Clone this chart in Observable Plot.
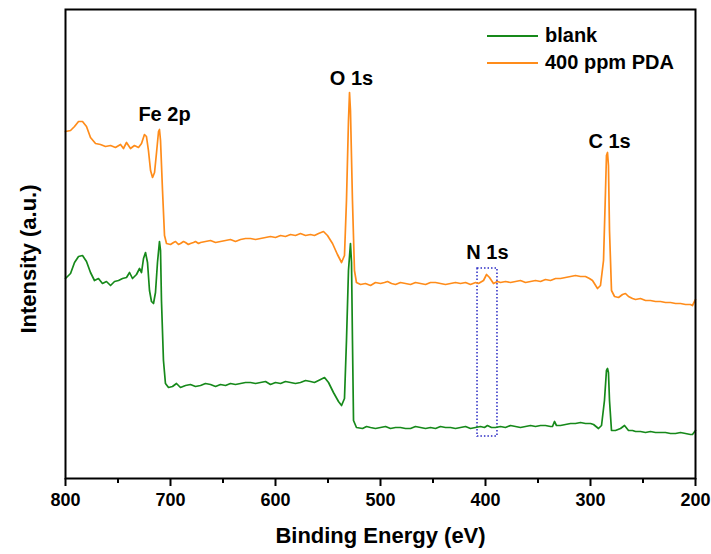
<!DOCTYPE html>
<html>
<head>
<meta charset="utf-8">
<script src="https://cdn.jsdelivr.net/npm/d3@7"></script>
<script src="https://cdn.jsdelivr.net/npm/@observablehq/plot@0.6"></script>
<style>
  html, body { margin: 0; padding: 0; background: #fff; }
  #wrap { position: relative; width: 711px; height: 554px; font-family: "Liberation Sans", Arial, sans-serif; }
  #legend { position: absolute; left: 487px; top: 22px; font-weight: bold; font-size: 20px; color: #000; }
  #legend .row { display: flex; align-items: center; height: 27px; }
  #legend .sw { width: 51px; height: 2px; margin-right: 7px; }
</style>
</head>
<body>
<div id="wrap"></div>
<script>
// ---- data (binding energy eV, intensity a.u.) ----
const blankSpectrum = [
  [800,200],[795.2,205],[791.4,216],[787.6,222],[783.8,223],[780.0,217],[776.2,206],[772.4,198],
  [768.6,200],[764.8,195],[761.0,197],[757.1,193],[753.3,197],[749.5,198],[745.7,200],[741.9,201],
  [739.0,206],[736.2,200],[732.4,204],[729.5,210],[727.6,206],[725.7,220],[723.8,226],[721.9,216],
  [720.0,188],[718.1,177],[716.2,175],[714.3,186],[712.4,216],[710.5,237],[709.5,228],[708.6,178],
  [706.7,118],[704.8,95],[701.9,91],[698.1,92],[694.3,95],[690.5,91],[685.7,93],[681.0,94],
  [676.2,92],[671.4,93],[666.7,95],[661.9,94],[657.1,92],[652.4,94],[647.6,93],[642.9,95],[638.1,94],
  [633.3,95],[628.6,96],[623.8,96],[619.0,95],[614.3,96],[609.5,97],[604.8,94],[600.0,96],[595.2,95],
  [590.5,97],[585.7,96],[581.0,95],[576.2,96],[571.4,98],[566.7,97],[562.9,96],[559.0,98],[553.3,101],
  [549.5,96],[544.8,86],[540.0,77],[537.1,73],[534.3,80],[532.4,138],[530.5,208],[528.6,235],
  [527.6,216],[526.7,138],[525.7,58],[522.9,51],[517.1,50],[513.3,52],[509.5,51],[504.8,50],[500.0,51],
  [495.2,52],[490.5,50],[485.7,51],[481.0,51],[476.2,50],[471.4,50],[466.7,52],[461.9,51],[457.1,50],
  [452.4,51],[447.6,50],[442.9,52],[438.1,51],[433.3,51],[428.6,50],[423.8,51],[419.0,52],[414.3,50],
  [409.5,51],[404.8,52],[401.0,51],[398.1,53],[394.3,51],[390.5,51],[385.7,52],[381.0,51],[376.2,53],
  [371.4,52],[366.7,51],[361.9,52],[357.1,53],[352.4,52],[347.6,53],[342.9,53],[338.1,52],[336.2,52],
  [334.3,57],[332.4,53],[328.6,53],[323.8,54],[319.0,55],[314.3,55],[309.5,56],[304.8,55],[300.0,55],
  [297.1,54],[292.4,50],[289.5,53],[286.7,78],[284.8,108],[283.8,110],[282.9,106],[281.9,78],[280.0,48],
  [276.2,48],[271.4,50],[267.6,53],[263.8,48],[260.0,48],[257.1,47],[252.4,47],[247.6,46],[242.9,47],
  [238.1,46],[233.3,46],[228.6,46],[223.8,45],[219.0,45],[214.3,46],[209.5,45],[204.8,44],[202.9,44],[200.0,48]
];
const pdaSpectrum = [
  [800,347],[795.2,348],[791.4,352],[787.6,357],[783.8,357],[780.0,352],[776.2,341],[771.4,335],
  [766.7,334],[761.9,332],[757.1,333],[752.4,331],[747.6,334],[744.8,330],[741.9,336],[738.1,330],
  [734.3,333],[730.5,331],[727.6,335],[724.8,344],[722.9,342],[721.0,328],[719.0,308],[717.1,301],
  [715.2,306],[713.3,326],[711.4,347],[710.5,349],[709.5,338],[707.6,288],[705.7,243],[703.8,235],
  [700.0,234],[697.1,236],[695.2,237],[692.4,234],[690.5,235],[687.6,237],[685.7,236],[683.0,234],
  [681.0,235],[678.1,236],[676.2,237],[673.3,235],[671.4,236],[666.7,237],[661.9,238],[657.1,236],
  [652.4,237],[647.6,238],[642.9,239],[638.1,237],[633.3,239],[628.6,240],[623.8,240],[619.0,239],
  [614.3,240],[609.5,241],[604.8,242],[600.0,241],[595.2,243],[590.5,242],[585.7,244],[581.0,243],
  [576.2,245],[571.4,243],[566.7,244],[562.9,243],[559.0,245],[554.3,247],[550.5,243],[545.7,235],
  [541.0,224],[537.1,216],[534.3,223],[532.4,278],[530.5,358],[529.5,386],[528.6,368],[526.7,278],
  [524.8,208],[522.9,196],[519.0,194],[514.3,195],[509.5,193],[504.8,196],[500.0,195],[496.2,196],
  [493.3,197],[489.5,195],[485.7,194],[481.0,196],[476.2,195],[471.4,194],[466.7,196],[461.9,195],
  [457.1,194],[452.4,196],[447.6,196],[442.9,195],[438.1,194],[433.3,195],[428.6,196],[423.8,195],
  [419.0,196],[414.3,194],[409.5,196],[406.7,195],[401.9,198],[399.0,204],[396.2,201],[392.4,195],
  [388.6,197],[385.7,196],[381.0,197],[376.2,196],[371.4,197],[366.7,198],[361.9,196],[357.1,197],
  [352.4,198],[347.6,197],[342.9,199],[338.1,198],[333.3,200],[328.6,200],[323.8,201],[319.0,202],
  [314.3,203],[309.5,202],[304.8,202],[301.0,200],[298.1,198],[293.3,190],[290.5,193],[287.6,218],
  [285.7,288],[284.8,323],[283.8,326],[282.9,313],[281.9,248],[280.0,188],[277.1,182],[273.3,181],
  [269.5,184],[266.7,185],[263.8,182],[260.0,180],[257.1,179],[252.4,180],[247.6,178],[242.9,178],
  [238.1,177],[233.3,177],[228.6,176],[223.8,176],[219.0,175],[214.3,175],[209.5,174],[204.8,174],
  [202.9,173],[200.0,179]
];
const seriesNames = ["blank", "400 ppm PDA"];
const seriesColors = ["#16891a", "#ff8c1a"];
const xTicks = [800, 700, 600, 500, 400, 300, 200];
const xMinorTicks = [750, 650, 550, 450, 350, 250];
const peakLabels = ["Fe 2p", "O 1s", "N 1s", "C 1s"];
const peakLabelEnergy = [705.7, 527.6, 398.1, 281.9];
const peakLabelIntensity = [364, 400, 226, 337];
const n1sBoxEnergy = [407.6, 388.6];      // x1, x2
const n1sBoxIntensity = [42, 210];        // y1, y2

// ---- build tables ----
const rows = [
  ...blankSpectrum.map(([e, v]) => ({e, v, s: seriesNames[0]})),
  ...pdaSpectrum.map(([e, v]) => ({e, v, s: seriesNames[1]}))
];
const peaks = peakLabels.map((t, i) => ({t, e: peakLabelEnergy[i], v: peakLabelIntensity[i]}));
const box = [{x1: n1sBoxEnergy[0], x2: n1sBoxEnergy[1], y1: n1sBoxIntensity[0], y2: n1sBoxIntensity[1]}];

const chart = Plot.plot({
  width: 711,
  height: 554,
  marginLeft: 65,
  marginRight: 16,
  marginTop: 9,
  marginBottom: 76,
  style: {fontFamily: "'Liberation Sans', Arial, sans-serif", fontWeight: "bold", background: "#fff", color: "#000"},
  x: {domain: [800, 200]},
  y: {domain: [0, 469], axis: null},
  color: {domain: seriesNames, range: seriesColors},
  marks: [
    Plot.rect(box, {x1: "x1", x2: "x2", y1: "y1", y2: "y2", fill: "none", stroke: "#2b2bc4", strokeWidth: 1.5, strokeDasharray: "1.5,2"}),
    Plot.line(rows, {x: "e", y: "v", z: "s", stroke: "s", strokeWidth: 1.7, curve: "linear"}),
    Plot.text(peaks, {x: "e", y: "v", text: "t", fontSize: 20, fontWeight: "bold", fill: "#000"}),
    Plot.frame({stroke: "#000", strokeWidth: 2}),
    Plot.axisX({ticks: xTicks, tickSize: 8, tickPadding: 7, strokeWidth: 2, fontSize: 18, fontWeight: "bold", tickFormat: d => String(d)}),
    Plot.axisX({ticks: xMinorTicks, tickSize: 5, strokeWidth: 2, tickFormat: null, text: null}),
    Plot.text(["Binding Energy (eV)"], {frameAnchor: "bottom", lineAnchor: "middle", textAnchor: "middle", dy: 57, fontSize: 22, fontWeight: "bold", fill: "#000", text: d => d}),
    Plot.text(["Intensity (a.u.)"], {frameAnchor: "left", textAnchor: "middle", lineAnchor: "middle", dx: -37, dy: 15, rotate: -90, fontSize: 22, fontWeight: "bold", fill: "#000", text: d => d})
  ]
});

const wrap = document.getElementById("wrap");
wrap.appendChild(chart);

// legend overlaid inside the frame
const legend = document.createElement("div");
legend.id = "legend";
seriesNames.forEach((name, i) => {
  const row = document.createElement("div");
  row.className = "row";
  const sw = document.createElement("span");
  sw.className = "sw";
  sw.style.background = seriesColors[i];
  const label = document.createElement("span");
  label.textContent = name;
  row.appendChild(sw);
  row.appendChild(label);
  legend.appendChild(row);
});
wrap.appendChild(legend);
</script>
</body>
</html>
